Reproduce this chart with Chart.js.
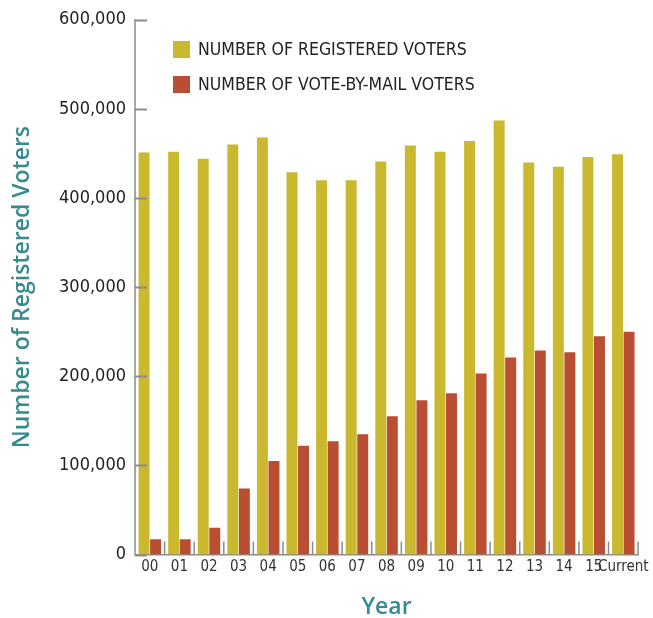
<!DOCTYPE html>
<html>
<head>
<meta charset="utf-8">
<script src="https://cdn.jsdelivr.net/npm/chart.js@4"></script>
<style>
  html, body { margin: 0; padding: 0; background: #fff; }
  #wrap { width: 653px; height: 618px; }
</style>
</head>
<body>
<div id="wrap"><canvas id="myChart" width="653" height="618"></canvas></div>
<script>
const years = ['00', '01', '02', '03', '04', '05', '06', '07', '08', '09', '10', '11', '12', '13', '14', '15', 'Current'];
const registered = [451000, 452000, 444000, 460000, 468000, 429000, 420000, 420000, 441000, 459000, 452000, 464000, 487000, 440000, 435000, 446000, 449000];
const voteByMail = [17000, 17000, 30000, 74000, 105000, 122000, 127000, 135000, 155000, 173000, 181000, 203000, 221000, 229000, 227000, 245000, 250000];
const yTicks = [0, 100000, 200000, 300000, 400000, 500000, 600000];

const condensed = "'Liberation Sans Narrow', 'DejaVu Sans Condensed', 'Roboto', sans-serif";
const teal = '#358b8f';

// short tick marks drawn inside the plot, plus the legend box
const innerMarks = {
    id: 'innerMarks',
    afterDraw(chart) {
        const ctx = chart.ctx;
        const area = chart.chartArea;
        const x = chart.scales.x;
        const y = chart.scales.y;
        ctx.save();
        ctx.strokeStyle = '#8c8c8c';
        ctx.lineWidth = 2;
        yTicks.forEach(v => {
            const py = Math.round(y.getPixelForValue(v)) + 0.5;
            ctx.beginPath();
            ctx.moveTo(area.left, py);
            ctx.lineTo(area.left + 12, py);
            ctx.stroke();
        });
        ctx.lineWidth = 1.5;
        for (let i = 1; i <= years.length; i++) {
            const gx = i < years.length ? (x.getPixelForTick(i - 1) + x.getPixelForTick(i)) / 2 : x.right;
            ctx.beginPath();
            ctx.moveTo(gx, area.bottom);
            ctx.lineTo(gx, area.bottom - 13);
            ctx.stroke();
        }

        // legend
        ctx.font = '17.5px ' + condensed;
        ctx.textBaseline = 'middle';
        chart.data.datasets.forEach((ds, i) => {
            const top = 41 + i * 35;
            ctx.fillStyle = ds.backgroundColor;
            ctx.fillRect(173, top, 17, 17);
            ctx.fillStyle = '#222';
            ctx.fillText(ds.label, 198, top + 9);
        });
        ctx.restore();
    }
};

const ctx = document.getElementById('myChart');

new Chart(ctx, {
    type: 'bar',
    data: {
        labels: years,
        datasets: [{
            label: 'NUMBER OF REGISTERED VOTERS',
            data: registered,
            backgroundColor: '#cab92e',
            borderWidth: 0
        }, {
            label: 'NUMBER OF VOTE-BY-MAIL VOTERS',
            data: voteByMail,
            backgroundColor: '#b94e33',
            borderWidth: 0
        }]
    },
    options: {
        responsive: false,
        animation: false,
        layout: {
            padding: { top: 17, right: 13, left: 0, bottom: 0 }
        },
        datasets: {
            bar: {
                categoryPercentage: 0.78,
                barPercentage: 0.95
            }
        },
        plugins: {
            legend: { display: false },
            tooltip: { enabled: false }
        },
        scales: {
            x: {
                grid: { display: false, drawTicks: false },
                border: { color: '#8c8c8c', width: 1.5 },
                ticks: {
                    color: '#333',
                    font: { family: condensed, size: 15 },
                    padding: 4,
                    autoSkip: false,
                    maxRotation: 0
                },
                title: {
                    display: true,
                    text: 'Year',
                    color: teal,
                    font: { family: "'Open Sans', sans-serif", size: 23, weight: '600' },
                    padding: { top: 0, bottom: -3 }
                },
                afterFit(scale) { scale.height = 63.5; }
            },
            y: {
                min: 0,
                max: 600000,
                afterBuildTicks(scale) { scale.ticks = yTicks.map(v => ({ value: v })); },
                grid: { display: false, drawTicks: false },
                border: { color: '#a8a8a8', width: 2 },
                ticks: {
                    color: '#222',
                    font: { family: condensed, size: 18 },
                    padding: 9,
                    callback: v => v.toLocaleString('en-US')
                },
                title: {
                    display: true,
                    text: 'Number of Registered Voters',
                    color: teal,
                    font: { family: "'Open Sans', sans-serif", size: 23, weight: '600' },
                    padding: { top: 9, bottom: 0 }
                },
                afterFit(scale) { scale.width = 135; }
            }
        }
    },
    plugins: [innerMarks]
});
</script>
</body>
</html>
